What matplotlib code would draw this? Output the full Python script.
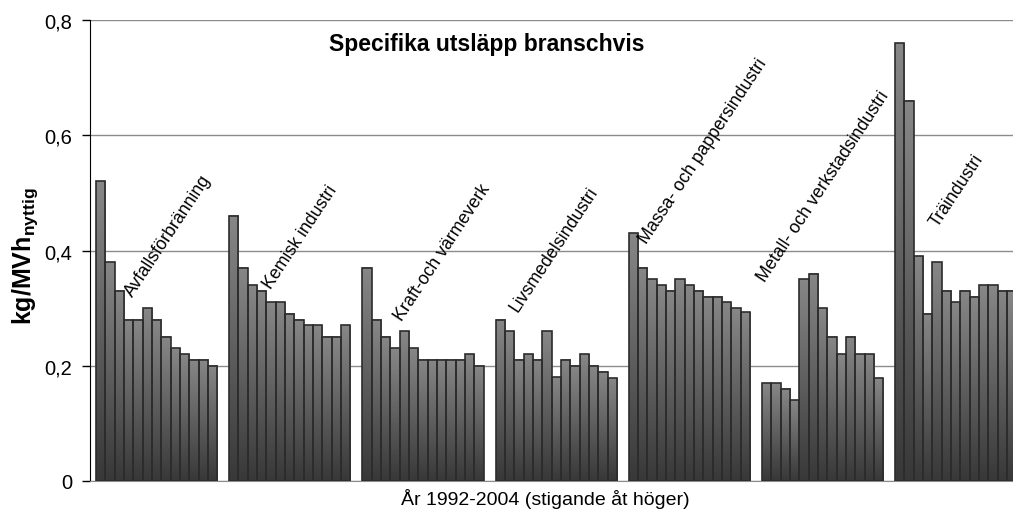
#!/usr/bin/env python3

# Specifika utsläpp branschvis, 1992-2004 per bransch

import numpy as np
import matplotlib
matplotlib.use("Agg")
import matplotlib.pyplot as plt
from matplotlib.colors import LinearSegmentedColormap

plt.rcParams['font.family'] = ['Liberation Sans', 'DejaVu Sans']
plt.rcParams['mathtext.fontset'] = 'custom'
plt.rcParams['mathtext.rm'] = 'Liberation Sans'
plt.rcParams['mathtext.bf'] = 'Liberation Sans:bold'

# Data (kg/MWh nyttig), ett värde per år 1992-2004
branscher = ["Avfallsförbränning", "Kemisk industri", "Kraft-och värmeverk",
             "Livsmedelsindustri", "Massa- och pappersindustri",
             "Metall- och verkstadsindustri", "Träindustri"]
ar = list(range(1992, 2005))

avfall = [0.52, 0.38, 0.33, 0.28, 0.28, 0.30, 0.28, 0.25, 0.23, 0.22, 0.21, 0.21, 0.20]
kemisk = [0.46, 0.37, 0.34, 0.33, 0.31, 0.31, 0.29, 0.28, 0.27, 0.27, 0.25, 0.25, 0.27]
kraft = [0.37, 0.28, 0.25, 0.23, 0.26, 0.23, 0.21, 0.21, 0.21, 0.21, 0.21, 0.22, 0.20]
livsmedel = [0.28, 0.26, 0.21, 0.22, 0.21, 0.26, 0.18, 0.21, 0.20, 0.22, 0.20, 0.19, 0.178]
massa = [0.43, 0.37, 0.35, 0.34, 0.33, 0.35, 0.34, 0.33, 0.32, 0.32, 0.31, 0.30, 0.293]
metall = [0.17, 0.17, 0.16, 0.14, 0.35, 0.36, 0.30, 0.25, 0.22, 0.25, 0.22, 0.22, 0.178]
tra = [0.76, 0.66, 0.39, 0.29, 0.38, 0.33, 0.31, 0.33, 0.32, 0.34, 0.34, 0.33, 0.33]
serier = [avfall, kemisk, kraft, livsmedel, massa, metall, tra]

# var etiketterna står (relativt kategorins mitt, och höjd)
etikett_dx = [-0.177, -0.141, -0.158, -0.287, -0.32, -0.432, -0.134]
etikett_y = [0.319, 0.333, 0.278, 0.293, 0.411, 0.345, 0.441]

fig = plt.figure(figsize=(10.13, 5.10), dpi=100)
ax = fig.add_axes([90 / 1013, 28 / 510, 932.4 / 1013, 461 / 510])

cmap = LinearSegmentedColormap.from_list("grad", ["#383838", "#878787"])
grad = np.linspace(0, 1, 128).reshape(-1, 1)

n = len(ar)
w = 1 / (n + 1.28)
for i, vals in enumerate(serier):
    x = i + (np.arange(n) - (n - 1) / 2) * w
    for xi, v in zip(x, vals):
        ax.imshow(grad, extent=[xi - w / 2, xi + w / 2, 0, v], origin='lower',
                  cmap=cmap, aspect='auto', zorder=2, interpolation='bilinear')
    ax.bar(x, vals, width=w, facecolor='none', edgecolor='#2c2c2c',
           linewidth=1.2, zorder=3)
    ax.text(i + etikett_dx[i], etikett_y[i], branscher[i], rotation=56.5,
            rotation_mode='anchor', ha='left', va='baseline', fontsize=12.8,
            color='black', zorder=4)

ax.set_xlim(-0.5, len(serier) - 0.5)
ax.set_ylim(0, 0.8)
ax.set_yticks([0, 0.2, 0.4, 0.6, 0.8])
ax.set_yticklabels(['0', '0,2', '0,4', '0,6', '0,8'], fontsize=14.5)
ax.tick_params(axis='y', length=6, width=1, pad=7, direction='out')
ax.set_xticks([])
ax.yaxis.grid(True, color='#8c8c8c', linewidth=1)
ax.set_axisbelow(True)
for s in ['top', 'right']:
    ax.spines[s].set_visible(False)
ax.spines['left'].set_color('black')
ax.spines['bottom'].set_color('#8c8c8c')

ax.set_ylabel(r'$\mathbf{kg/MVh_{nyttig}}$', fontsize=18)
ax.yaxis.set_label_coords(-0.054, 0.49)

fig.text(486.5 / 1013, 1 - 51 / 510, "Specifika utsläpp branschvis",
         ha='center', va='baseline', fontsize=16.5, fontweight='bold')
fig.text(545 / 1013, 1 - 505 / 510, "År 1992-2004 (stigande åt höger)",
         ha='center', va='baseline', fontsize=14)

fig.savefig("out.png", dpi=100)
